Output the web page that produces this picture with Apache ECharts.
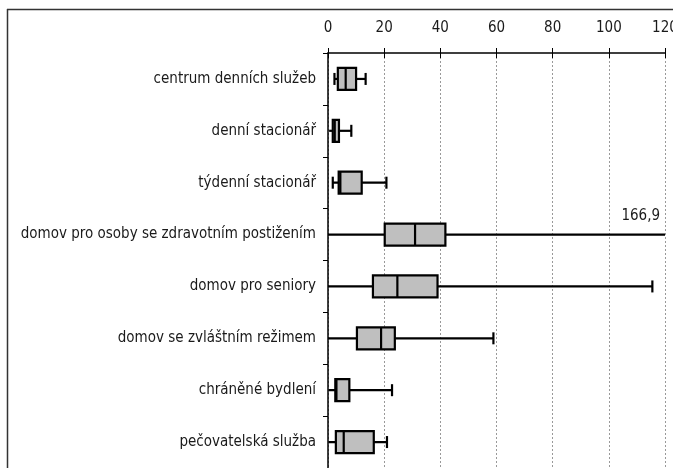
<!DOCTYPE html>
<html>
<head>
<meta charset="utf-8">
<script src="https://cdn.jsdelivr.net/npm/echarts@6/dist/echarts.min.js"></script>
<style>
  html, body { margin: 0; padding: 0; background: #fff; }
  #chart { width: 673px; height: 468px; }
</style>
</head>
<body>
<div id="chart"></div>
<script>
// Service types (top to bottom)
const categories = [
  'centrum denních služeb',
  'denní stacionář',
  'týdenní stacionář',
  'domov pro osoby se zdravotním postižením',
  'domov pro seniory',
  'domov se zvláštním režimem',
  'chráněné bydlení',
  'pečovatelská služba'
];
// Five-number summaries per category
const minValues    = [2.3, 0.4, 1.7, 0, 0, 0, 0.2, 0.2];
const q1Values     = [3.5, 1.7, 3.8, 20.2, 16, 10.3, 2.6, 2.8];
const medianValues = [6.3, 2.4, 4.4, 31, 24.7, 18.9, 3.0, 5.6];
const q3Values     = [10, 3.9, 12, 41.8, 39, 23.8, 7.6, 16.3];
const maxValues    = [13.4, 8.3, 20.8, 166.9, 115.5, 58.9, 22.8, 21];
// Value axis ticks
const axisMin = 0, axisMax = 120, axisStep = 20;

const FONT = '"Liberation Sans Narrow", "DejaVu Sans Condensed", sans-serif';

const boxData = categories.map((c, i) =>
  [i, minValues[i], q1Values[i], medianValues[i], q3Values[i], maxValues[i]]);

function renderBox(params, api) {
  const cs = params.coordSys;
  const right = cs.x + cs.width;
  const cat = api.value(0);
  const vals = [1, 2, 3, 4, 5].map(k => api.value(k));
  const px = vals.map(v => Math.min(api.coord([v, cat])[0], right));
  const y = api.coord([0, cat])[1];
  const boxH = 22, capH = 12;
  const lineStyle = { stroke: '#000', lineWidth: 2.2 };
  const children = [
    { type: 'line', shape: { x1: px[0], y1: y, x2: px[4], y2: y }, style: lineStyle },
    { type: 'rect', shape: { x: px[1], y: y - boxH / 2, width: px[3] - px[1], height: boxH },
      style: { fill: '#bfbfbf', stroke: '#000', lineWidth: 2.2 } },
    { type: 'line', shape: { x1: px[2], y1: y - boxH / 2, x2: px[2], y2: y + boxH / 2 }, style: lineStyle }
  ];
  if (vals[0] > axisMin + 0.5) {
    children.push({ type: 'line', shape: { x1: px[0], y1: y - capH / 2, x2: px[0], y2: y + capH / 2 }, style: lineStyle });
  }
  if (vals[4] <= axisMax) {
    children.push({ type: 'line', shape: { x1: px[4], y1: y - capH / 2, x2: px[4], y2: y + capH / 2 }, style: lineStyle });
  } else {
    // whisker runs past the axis end: state its value instead
    children.push({ type: 'text', x: right - 5, y: y - 18,
      style: { text: String(vals[4]).replace('.', ','), fill: '#1a1a1a', font: '15px ' + FONT,
               align: 'right', verticalAlign: 'middle' } });
  }
  return { type: 'group', children };
}

const chart = echarts.init(document.getElementById('chart'), null, { renderer: 'canvas' });
chart.setOption({
  animation: false,
  backgroundColor: '#fff',
  grid: { left: 328, right: 8, top: 53, bottom: 0, containLabel: false, outerBoundsMode: 'none' },
  xAxis: [{
    type: 'value', position: 'top', min: axisMin, max: axisMax, interval: axisStep,
    axisLine: { show: true, lineStyle: { color: '#000', width: 1.5 } },
    axisTick: { show: true, length: 5, lineStyle: { color: '#000' } },
    axisLabel: { color: '#1a1a1a', fontFamily: FONT, fontSize: 15, margin: 17 },
    splitLine: { show: true, lineStyle: { color: '#999', type: [2, 2], width: 1 } }
  }, {
    type: 'value', position: 'top', min: axisMin, max: axisMax, interval: axisStep,
    axisLine: { show: false },
    axisTick: { show: true, inside: true, length: 5, lineStyle: { color: '#000' } },
    axisLabel: { show: false }, splitLine: { show: false }
  }],
  yAxis: {
    type: 'category', data: categories, inverse: true,
    axisLine: { show: true, lineStyle: { color: '#000', width: 1.5 } },
    axisTick: { show: true, length: 5, lineStyle: { color: '#000' } },
    axisLabel: { color: '#1a1a1a', fontFamily: FONT, fontSize: 15, margin: 12 },
    splitLine: { show: false }
  },
  series: [{
    type: 'custom', renderItem: renderBox, data: boxData, clip: false,
    encode: { x: [1, 2, 3, 4, 5], y: 0 }
  }],
  graphic: [
    { type: 'line', shape: { x1: 7, y1: 9.5, x2: 673, y2: 9.5 }, style: { stroke: '#333', lineWidth: 1.5 } },
    { type: 'line', shape: { x1: 7.5, y1: 9, x2: 7.5, y2: 468 }, style: { stroke: '#333', lineWidth: 1.5 } }
  ]
});
</script>
</body>
</html>
